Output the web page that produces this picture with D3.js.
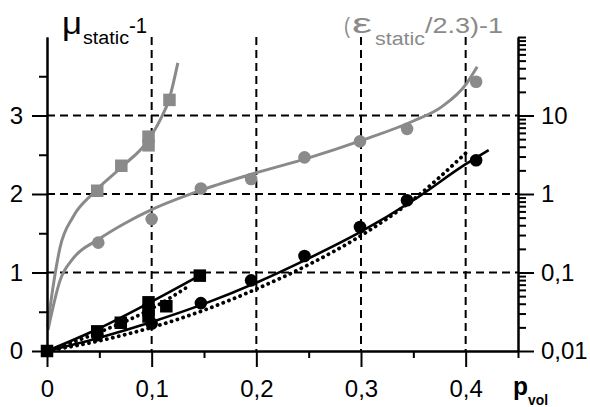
<!DOCTYPE html>
<html>
<head>
<meta charset="utf-8">
<script src="https://cdn.jsdelivr.net/npm/d3@7"></script>
<style>
  html, body { margin: 0; padding: 0; background: #fff; }
  svg { display: block; }
  text { font-family: "Liberation Sans", Arial, sans-serif; }
</style>
</head>
<body>
<svg id="chart" width="590" height="407"></svg>
<script>
// ---------- data ----------
const xMajorTicks = [0, 0.1, 0.2, 0.3, 0.4];
const xTickLabels = ["0", "0,1", "0,2", "0,3", "0,4"];
const xMinorTicks = [0.05, 0.15, 0.25, 0.35, 0.45];
const leftMajorTicks = [0, 1, 2, 3];
const leftTickLabels = ["0", "1", "2", "3"];
const leftMinorTicks = [0.5, 1.5, 2.5, 3.5];
const rightMajorTicks = [0.01, 0.1, 1, 10];
const rightTickLabels = ["0,01", "0,1", "1", "10"];
const rightMinorTicks = [0.02,0.03,0.04,0.05,0.06,0.07,0.08,0.09,
                         0.2,0.3,0.4,0.5,0.6,0.7,0.8,0.9,
                         2,3,4,5,6,7,8,9,
                         20,30,40,50,60,70,80,90,100];
const hGrid = [1, 2, 3];
const vGrid = [0.1, 0.2, 0.3, 0.4];

// gray series (right log axis): (eps_static/2.3)-1
const graySqX = [0.048, 0.071, 0.097, 0.097, 0.117];
const graySqY = [1.10, 2.29, 5.37, 4.17, 15.8];
const graySqCurveX = [0.0005, 0.003, 0.0125, 0.025, 0.044, 0.071, 0.097, 0.108, 0.117, 0.125];
const graySqCurveY = [0.0204, 0.0363, 0.209, 0.513, 1.02, 2.19, 4.9, 8.71, 16.6, 46.8];
const grayCiX = [0.049, 0.1, 0.147, 0.195, 0.246, 0.299, 0.344, 0.41];
const grayCiY = [0.240, 0.479, 1.175, 1.55, 2.93, 4.68, 6.76, 26.9];
const grayCiCurveX = [0.001, 0.0125, 0.025, 0.049, 0.075, 0.1, 0.15, 0.2, 0.25, 0.3, 0.35, 0.377, 0.401, 0.411];
const grayCiCurveY = [0.0186, 0.0794, 0.151, 0.263, 0.427, 0.631, 1.148, 1.862, 2.884, 4.786, 8.511, 12.88, 25.7, 41.7];

// black series (left linear axis): mu_static-1
const blackSqX = [0, 0.048, 0.0705, 0.097, 0.097, 0.097, 0.114, 0.146];
const blackSqY = [0, 0.25, 0.36, 0.62, 0.52, 0.44, 0.57, 0.96];
const blackSqFitX = [0, 0.05, 0.1, 0.147];
const blackSqFitY = [0, 0.29, 0.63, 0.97];
const blackSqDotX = [0, 0.05, 0.1, 0.137];
const blackSqDotY = [0, 0.24, 0.54, 0.84];
const blackCiX = [0.048, 0.1, 0.147, 0.195, 0.246, 0.299, 0.344, 0.41];
const blackCiY = [0.20, 0.35, 0.61, 0.90, 1.21, 1.58, 1.92, 2.43];
const blackCiFitX = [0, 0.05, 0.1, 0.15, 0.2, 0.25, 0.3, 0.35, 0.4, 0.422];
const blackCiFitY = [0, 0.17, 0.37, 0.60, 0.87, 1.18, 1.52, 1.92, 2.38, 2.56];
const blackCiDotX = [0, 0.05, 0.1, 0.15, 0.2, 0.25, 0.3, 0.35, 0.4];
const blackCiDotY = [0, 0.13, 0.30, 0.52, 0.79, 1.10, 1.47, 1.93, 2.52];

// ---------- scales ----------
const GRAY = "#8a8a8a";
const x = d3.scaleLinear().domain([0, 0.45]).range([47, 518]);
const yL = d3.scaleLinear().domain([0, 4]).range([351, 37]);
const yR = d3.scaleLog().domain([0.01, 100]).range([351, 37]);

const svg = d3.select("#chart");
svg.append("rect").attr("width", 590).attr("height", 407).attr("fill", "#fff");

// ---------- grid ----------
const grid = svg.append("g").attr("stroke", "#000").attr("stroke-width", 2)
  .attr("stroke-dasharray", "8,5").attr("fill", "none");
grid.selectAll("line.h").data(hGrid).join("line").attr("class", "h")
  .attr("x1", x(0)).attr("x2", x(0.45)).attr("y1", d => yL(d)).attr("y2", d => yL(d));
grid.selectAll("line.v").data(vGrid).join("line").attr("class", "v")
  .attr("x1", d => x(d)).attr("x2", d => x(d)).attr("y1", yL(4)).attr("y2", yL(0));

// ---------- curves ----------
const zip = (xs, ys) => xs.map((v, i) => [v, ys[i]]);
const lineR = d3.line().x(d => x(d[0])).y(d => yR(d[1])).curve(d3.curveMonotoneX);
const lineL = d3.line().x(d => x(d[0])).y(d => yL(d[1])).curve(d3.curveMonotoneX);

svg.append("path").attr("d", lineR(zip(graySqCurveX, graySqCurveY)))
  .attr("fill", "none").attr("stroke", GRAY).attr("stroke-width", 3);
svg.append("path").attr("d", lineR(zip(grayCiCurveX, grayCiCurveY)))
  .attr("fill", "none").attr("stroke", GRAY).attr("stroke-width", 3);

svg.append("path").attr("d", lineL(zip(blackSqFitX, blackSqFitY)))
  .attr("fill", "none").attr("stroke", "#000").attr("stroke-width", 2.6);
svg.append("path").attr("d", lineL(zip(blackCiFitX, blackCiFitY)))
  .attr("fill", "none").attr("stroke", "#000").attr("stroke-width", 2.6);
svg.append("path").attr("d", lineL(zip(blackSqDotX, blackSqDotY)))
  .attr("fill", "none").attr("stroke", "#000").attr("stroke-width", 3.8)
  .attr("stroke-linecap", "round").attr("stroke-dasharray", "0.1,6");
svg.append("path").attr("d", lineL(zip(blackCiDotX, blackCiDotY)))
  .attr("fill", "none").attr("stroke", "#000").attr("stroke-width", 3.8)
  .attr("stroke-linecap", "round").attr("stroke-dasharray", "0.1,6");

// ---------- markers ----------
const SQ = 12.5, R = 6.3;
svg.append("g").selectAll("rect").data(zip(graySqX, graySqY)).join("rect")
  .attr("x", d => x(d[0]) - SQ / 2).attr("y", d => yR(d[1]) - SQ / 2)
  .attr("width", SQ).attr("height", SQ).attr("fill", GRAY);
svg.append("g").selectAll("circle").data(zip(grayCiX, grayCiY)).join("circle")
  .attr("cx", d => x(d[0])).attr("cy", d => yR(d[1])).attr("r", R).attr("fill", GRAY);
svg.append("g").selectAll("rect").data(zip(blackSqX, blackSqY)).join("rect")
  .attr("x", d => x(d[0]) - SQ / 2).attr("y", d => yL(d[1]) - SQ / 2)
  .attr("width", SQ).attr("height", SQ).attr("fill", "#000");
svg.append("g").selectAll("circle").data(zip(blackCiX, blackCiY)).join("circle")
  .attr("cx", d => x(d[0])).attr("cy", d => yL(d[1])).attr("r", R).attr("fill", "#000");

// ---------- axes ----------
function styleAxis(g) {
  g.selectAll("path.domain").attr("stroke", "#000").attr("stroke-width", 2);
  g.selectAll(".tick line").attr("stroke", "#000").attr("stroke-width", 2);
  g.selectAll(".tick text").attr("fill", "#000").attr("font-size", 24)
    .attr("font-family", '"Liberation Sans", Arial, sans-serif');
}
// x axis
svg.append("g").attr("transform", `translate(0,${yL(0)})`)
  .call(d3.axisBottom(x).tickValues(xMinorTicks).tickSize(7).tickSizeOuter(0).tickFormat(""))
  .call(styleAxis);
svg.append("g").attr("transform", `translate(0,${yL(0)})`)
  .call(d3.axisBottom(x).tickValues(xMajorTicks).tickSize(16).tickSizeOuter(0)
    .tickPadding(13).tickFormat((d, i) => xTickLabels[i]))
  .call(styleAxis);
// left axis
svg.append("g").attr("transform", `translate(${x(0)},0)`)
  .call(d3.axisLeft(yL).tickValues(leftMinorTicks).tickSize(8).tickSizeOuter(0).tickFormat(""))
  .call(styleAxis);
svg.append("g").attr("transform", `translate(${x(0)},0)`)
  .call(d3.axisLeft(yL).tickValues(leftMajorTicks).tickSize(15).tickSizeOuter(0)
    .tickPadding(9).tickFormat((d, i) => leftTickLabels[i]))
  .call(styleAxis);
// right axis
svg.append("g").attr("transform", `translate(${x(0.45)},0)`)
  .call(d3.axisRight(yR).tickValues(rightMinorTicks).tickSize(8).tickSizeOuter(0).tickFormat(""))
  .call(styleAxis);
svg.append("g").attr("transform", `translate(${x(0.45)},0)`)
  .call(d3.axisRight(yR).tickValues(rightMajorTicks).tickSize(16).tickSizeOuter(0)
    .tickPadding(7).tickFormat((d, i) => rightTickLabels[i]))
  .call(styleAxis);

// ---------- titles ----------
function piece(txt, px, py, size, w, fill, weight) {
  const t = svg.append("text").attr("x", px).attr("y", py).attr("font-size", size)
    .attr("fill", fill).text(txt);
  if (weight) t.attr("font-weight", weight);
  if (w) t.attr("textLength", w).attr("lengthAdjust", "spacingAndGlyphs");
  return t;
}
piece("μ", 62, 34, 32, 20, "#000");
piece("static", 83, 44, 18, 46, "#000");
piece("-1", 129, 33, 22, 18, "#000");

piece("(", 344, 33, 22, 6, GRAY);
piece("ε", 352, 33, 28, 20, GRAY);
piece("static", 375, 45, 18, 50, GRAY);
piece("/2.3)-1", 425, 33, 22, 78, GRAY);

piece("p", 513, 395, 25, 15, "#000", "bold");
piece("vol", 528, 405, 15, 20, "#000", "bold");
</script>
</body>
</html>
